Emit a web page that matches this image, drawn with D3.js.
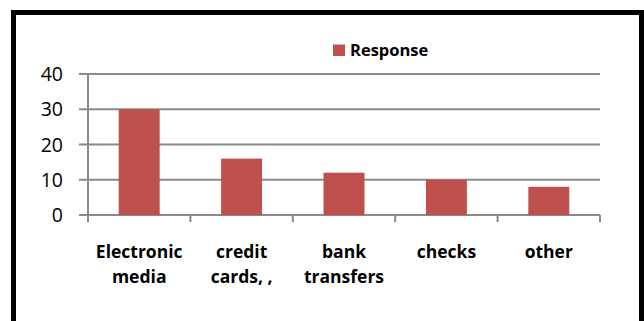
<!DOCTYPE html>
<html>
<head>
<meta charset="utf-8">
<script src="https://cdn.jsdelivr.net/npm/d3@7"></script>
<style>
  html, body { margin: 0; padding: 0; background: #fff; }
  svg { display: block; }
</style>
</head>
<body>
<script>
const categories = [["Electronic", "media"], ["credit", "cards, ,"], ["bank", "transfers"], ["checks"], ["other"]];
const categoryKeys = ["Electronic media", "credit cards, ,", "bank transfers", "checks", "other"];
const responseValues = [30, 16, 12, 10, 8];
const yTicks = [0, 10, 20, 30, 40];
const seriesName = "Response";

const W = 644, H = 321;
const svg = d3.select("body").append("svg").attr("width", W).attr("height", H);

// outer border
svg.append("rect")
  .attr("x", 13.5).attr("y", 12.5)
  .attr("width", 628).attr("height", 330)
  .attr("fill", "#fff").attr("stroke", "#000").attr("stroke-width", 5);

const x = d3.scaleBand().domain(categoryKeys).range([88, 600]).paddingInner(0).paddingOuter(0);
const y = d3.scaleLinear().domain([0, 40]).range([215, 74]);

const gridColor = "#8a8a8a";

// gridlines
svg.append("g").selectAll("line").data(yTicks).join("line")
  .attr("x1", 79).attr("x2", 600)
  .attr("y1", d => y(d)).attr("y2", d => y(d))
  .attr("stroke", gridColor).attr("stroke-width", 2);

// y-axis line
svg.append("line").attr("x1", 88).attr("x2", 88)
  .attr("y1", y(40)).attr("y2", y(0) + 7)
  .attr("stroke", gridColor).attr("stroke-width", 2);

// category tick marks
const boundaries = categoryKeys.map(c => x(c)).concat([x.range()[1]]);
svg.append("g").selectAll("line").data(boundaries).join("line")
  .attr("x1", d => d).attr("x2", d => d)
  .attr("y1", y(0)).attr("y2", y(0) + 7)
  .attr("stroke", gridColor).attr("stroke-width", 2);

// y tick labels
svg.append("g").selectAll("text").data(yTicks).join("text")
  .attr("x", 63).attr("y", d => y(d))
  .attr("dy", "0.36em")
  .attr("text-anchor", "end")
  .attr("font-family", "'Open Sans', sans-serif")
  .attr("font-size", 19.5)
  .attr("fill", "#000")
  .text(d => d);

// bars
const barW = x.bandwidth() * 0.4;
svg.append("g").selectAll("rect").data(responseValues).join("rect")
  .attr("x", (d, i) => x(categoryKeys[i]) + (x.bandwidth() - barW) / 2)
  .attr("width", barW)
  .attr("y", d => y(d))
  .attr("height", d => y(0) - y(d))
  .attr("fill", "#c0504d");

// category labels
const lab = svg.append("g").selectAll("text").data(categories).join("text")
  .attr("x", (d, i) => x(categoryKeys[i]) + x.bandwidth() / 2)
  .attr("y", 258)
  .attr("text-anchor", "middle")
  .attr("font-family", "'Open Sans', sans-serif")
  .attr("font-weight", "bold")
  .attr("font-size", 17.5)
  .attr("fill", "#000");
lab.selectAll("tspan").data(d => d).join("tspan")
  .attr("x", function() { return d3.select(this.parentNode).attr("x"); })
  .attr("dy", (d, i) => i === 0 ? 0 : 25)
  .text(d => d);

// legend
svg.append("rect").attr("x", 333).attr("y", 44.5).attr("width", 12).attr("height", 11.5).attr("fill", "#c0504d");
svg.append("text").attr("x", 350).attr("y", 55.5)
  .attr("font-family", "'Open Sans', sans-serif")
  .attr("font-weight", "bold")
  .attr("font-size", 16.5)
  .attr("fill", "#000")
  .text(seriesName);
</script>
</body>
</html>
